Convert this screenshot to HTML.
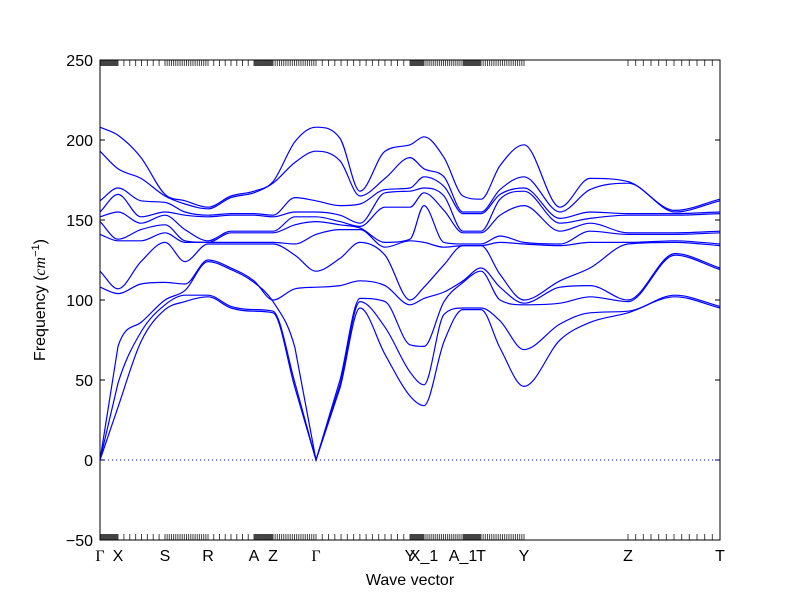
<!DOCTYPE html>
<html><head><meta charset="utf-8"><style>
body{margin:0;background:#fff;}
svg{display:block;font-family:"Liberation Sans","DejaVu Sans",sans-serif;}
</style></head><body>
<svg id="chart" width="800" height="600">
<rect x="0" y="0" width="800" height="600" fill="#fff"/>
<g id="ticks"></g>
<g id="bands"></g>
<rect x="100" y="60" width="620" height="480" fill="none" stroke="#000" stroke-width="1"/>
<g id="labels"></g>
<text x="410" y="585" font-size="16" text-anchor="middle">Wave vector</text>
<text transform="translate(45,300) rotate(-90)" font-size="16" text-anchor="middle">Frequency (<tspan font-style="italic" font-family="Liberation Serif,serif">cm</tspan><tspan font-size="11" dy="-6">−1</tspan><tspan dy="6">)</tspan></text>
</svg>
<script>
const yTicks=[-50,0,50,100,150,200,250];
const qLabels=["Γ","X","S","R","A","Z","Γ","Y","X_1","A_1","T","Y","Z","T"];
const qPos=[0,18,65,108,154,173,216,310,324,363,381,424,528,620];
const qPointsPerSeg=[30,8,20,8,30,20,15,30,20,30,20,0,12];
const sampleX=[0,18,41,65,85,108,131,154,173,195,216,240,260,285,310,324,344,363,381,400,424,460,490,528,575,620];
const bandFreqs=[
[208,193,162,155,152,149,141,118,108,0,0,0],
[203,182,170,166,155,138,137,107,104,71,48,33],
[189,176,162,152,148,144,137,124,110,86,80,74],
[166,165,161,155,153,147,142,136,111,100,97,94],
[162,160,155,153,144,137,136,124,110,106,103,99],
[158,157,153,152,137,136,136,135,125,124,103,102],
[165,164,154,153,143,142,136,135,120,119,96,95],
[168,167,154,153,143,142,136,135,112,111,94,93],
[174,173,153,152,143,142,136,135,100,99,93,92],
[199,186,164,155,152,147,135,128,107,70,48,45],
[208,193,162,155,152,149,141,118,108,0,0,0],
[201,187,159,153,149,147,144,126,109,50,47,45],
[168,165,160,148,146,145,144,136,112,101,99,95],
[193,176,169,167,158,136,133,128,109,99,83,66],
[197,189,170,168,158,138,137,100,97,72,55,40],
[202,182,177,170,167,159,136,108,101,71,47,34],
[189,177,171,165,156,136,133,122,105,99,91,74],
[165,155,154,143,142,135,134,134,112,111,95,94],
[163,155,154,143,142,135,134,134,120,118,95,94],
[184,169,166,163,153,140,136,116,108,100,87,70],
[197,177,170,168,159,136,135,100,98,97,69,46],
[158,155,151,148,143,135,134,112,108,98,85,75],
[176,169,155,151,148,143,136,120,109,102,92,86],
[174,173,154,153,142,141,136,135,100,99,93,92],
[156,155,154,153,142,141,137,136,129,128,103,102],
[163,162,155,154,143,142,135,134,120,119,96,95]
];
const NS="http://www.w3.org/2000/svg";
const X0=100,X1=720,Y0=540,Y1=60,kMax=620,fMin=-50,fMax=250;
function xs(k){return X0+(k/kMax)*(X1-X0);}
function ys(f){return Y0-(f-fMin)/(fMax-fMin)*(Y0-Y1);}
function mk(tag,attrs){const e=document.createElementNS(NS,tag);for(const a in attrs)e.setAttribute(a,attrs[a]);return e;}
const tg=document.getElementById('ticks'),lg=document.getElementById('labels'),bg=document.getElementById('bands');
yTicks.forEach(v=>{
 const y=ys(v);
 const l=mk('line',{x1:X0,x2:X0+5,y1:y,y2:y,stroke:'#000'});
 
 
 tg.appendChild(l);
 const r=mk('line',{x1:X1-5,x2:X1,y1:y,y2:y,stroke:'#000'});
 
 
 tg.appendChild(r);
 const t=mk('text',{x:X0-7,y:y+6,'font-size':16,'text-anchor':'end'});
 t.textContent=(v<0?'−'+Math.abs(v):String(v));
 
 
 lg.appendChild(t);
});
for(let s=0;s<qPointsPerSeg.length;s++){
 const n=qPointsPerSeg[s];
 for(let i=0;i<=n;i++){
  if(n===0)break;
  const k=qPos[s]+(qPos[s+1]-qPos[s])*i/n;
  const x=xs(k);
  const a=mk('line',{x1:x,x2:x,y1:Y1,y2:Y1+6,stroke:'#444','stroke-width':1});
  
  
  tg.appendChild(a);
  const b=mk('line',{x1:x,x2:x,y1:Y0-6,y2:Y0,stroke:'#444','stroke-width':1});
  
  
  tg.appendChild(b);
 }
}
qLabels.forEach((s,i)=>{
 const t=mk('text',{x:xs(qPos[i]),y:Y0+21,'font-size':16,'text-anchor':'middle'});
 if(s==='Γ')t.setAttribute('font-family','Liberation Serif,serif');
 t.textContent=s;
 
 
 lg.appendChild(t);
});
const z=mk('line',{x1:X0,x2:X1,y1:ys(0),y2:ys(0),stroke:'#00f','stroke-width':1,'stroke-dasharray':'1,3'});


bg.appendChild(z);
function monotone(xv,yv){
 const n=xv.length,d=[],m=[];
 for(let i=0;i<n-1;i++)d.push((yv[i+1]-yv[i])/(xv[i+1]-xv[i]));
 m[0]=d[0];m[n-1]=d[n-2];
 for(let i=1;i<n-1;i++){m[i]=(d[i-1]*d[i]<=0)?0:(d[i-1]+d[i])/2;}
 for(let i=0;i<n-1;i++){if(d[i]===0){m[i]=0;m[i+1]=0;}else{const a=m[i]/d[i],b=m[i+1]/d[i],h=a*a+b*b;if(h>9){const t=3/Math.sqrt(h);m[i]=t*a*d[i];m[i+1]=t*b*d[i];}}}
 let p='M'+xs(xv[0]).toFixed(2)+','+ys(yv[0]).toFixed(2);
 for(let i=0;i<n-1;i++){
  const h=xv[i+1]-xv[i];
  const acoustic=(yv[i]===0||yv[i+1]===0);
  const mL=acoustic?d[i]:m[i];
  const mR=acoustic?d[i]:m[i+1];
  p+=' C'+xs(xv[i]+h/3).toFixed(2)+','+ys(yv[i]+mL*h/3).toFixed(2)+' '+xs(xv[i+1]-h/3).toFixed(2)+','+ys(yv[i+1]-mR*h/3).toFixed(2)+' '+xs(xv[i+1]).toFixed(2)+','+ys(yv[i+1]).toFixed(2);
 }
 return p;
}
const nb=bandFreqs[0].length;
for(let b=0;b<nb;b++){
 const yv=bandFreqs.map(r=>r[b]);
 const path=mk('path',{d:monotone(sampleX,yv),fill:'none',stroke:'#0000ff','stroke-width':1.2});
 
 
 bg.appendChild(path);
}
</script>
</body></html>
